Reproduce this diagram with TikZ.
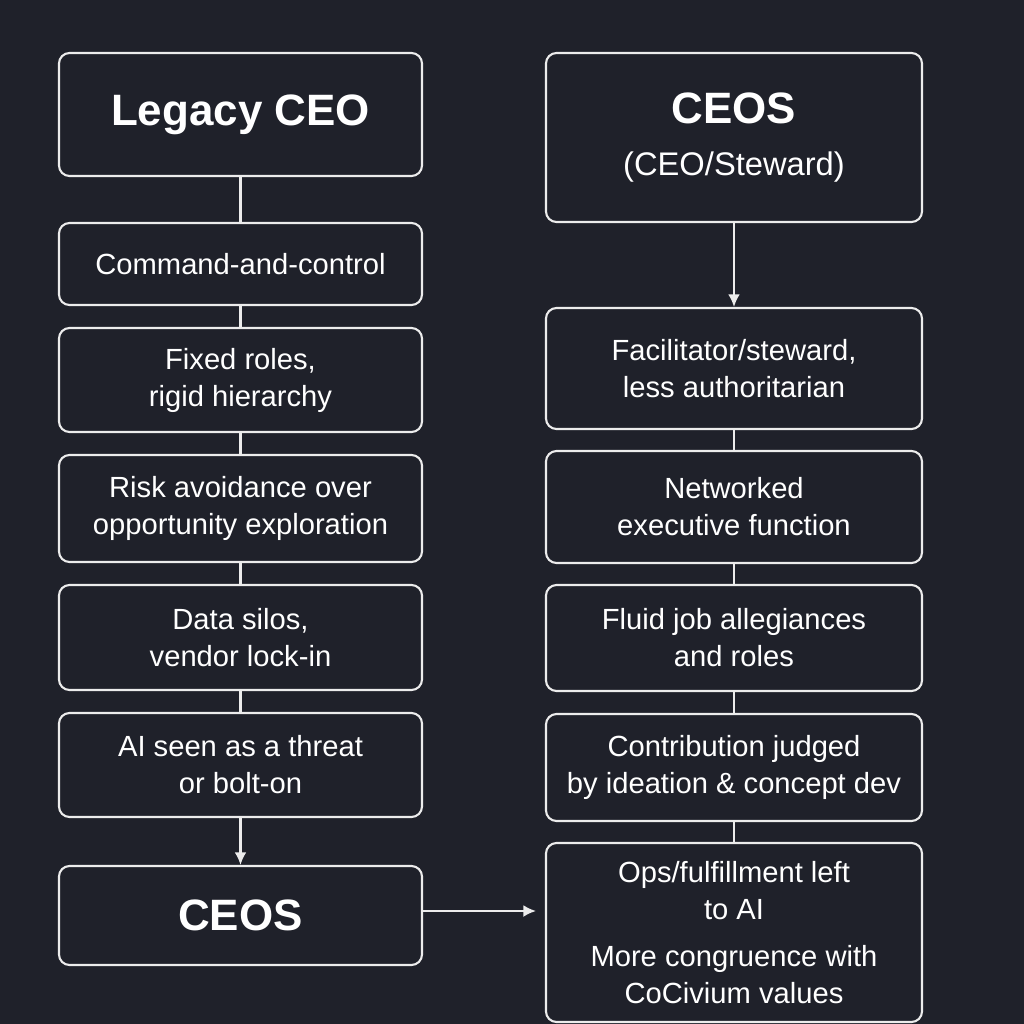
\documentclass[tikz,border=0pt]{standalone}
\usepackage{fontspec}
\setmainfont{Liberation Sans}
\usetikzlibrary{arrows.meta}
\definecolor{bgdark}{RGB}{31,33,42}
\definecolor{boxline}{RGB}{236,236,236}
\tikzset{
  box/.style={draw=boxline, fill=bgdark, line width=0.6pt, rounded corners=3pt, text=white, align=center, inner sep=0pt, font=\fontsize{8.3}{10.5}\selectfont},
  lbox/.style={box, minimum width=3.63cm},
  rbox/.style={box, minimum width=3.76cm},
  headfont/.style={font=\fontsize{12.5}{15}\selectfont\bfseries},
  link/.style={draw=boxline, line width=0.6pt},
  arrowlink/.style={link, -{Latex[length=3.6pt,width=3.4pt]}}
}

\begin{document}
\begin{tikzpicture}
    \fill[bgdark] (0,0) rectangle (10.24,-10.24);
    \useasboundingbox (0,0) rectangle (10.24,-10.24);
    % legacy column
    \node[lbox, minimum height=1.23cm, headfont] (legacy) at (2.405,-1.145) {Legacy CEO};
    \node[lbox, minimum height=0.82cm] (command) at (2.405,-2.64) {Command-and-control};
    \node[lbox, minimum height=1.04cm] (fixed) at (2.405,-3.80) {Fixed roles,\\rigid hierarchy};
    \node[lbox, minimum height=1.07cm] (risk) at (2.405,-5.085) {Risk avoidance over\\opportunity exploration};
    \node[lbox, minimum height=1.05cm] (silos) at (2.405,-6.375) {Data silos,\\vendor lock-in};
    \node[lbox, minimum height=1.04cm] (threat) at (2.405,-7.65) {AI seen as a threat\\or bolt-on};
    \node[lbox, minimum height=0.99cm, headfont] (ceosleft) at (2.405,-9.155) {CEOS};
    % steward column
    \node[rbox, minimum height=1.69cm, font=\fontsize{9.3}{15}\selectfont] (steward) at (7.34,-1.375) {{\fontsize{12.5}{15}\selectfont\bfseries CEOS}\\(CEO/Steward)};
    \node[rbox, minimum height=1.21cm] (facil) at (7.34,-3.685) {Facilitator/steward,\\less authoritarian};
    \node[rbox, minimum height=1.12cm] (network) at (7.34,-5.07) {Networked\\executive function};
    \node[rbox, minimum height=1.06cm] (fluid) at (7.34,-6.38) {Fluid job allegiances\\and roles};
    \node[rbox, minimum height=1.07cm] (contrib) at (7.34,-7.675) {Contribution judged\\by ideation \& concept dev};
    \node[rbox, minimum height=1.79cm] (ops) at (7.34,-9.325) {Ops/fulfillment left\\to AI\\[3pt]More congruence with\\CoCivium values};
    \coordinate (opsin) at (5.36,-9.11);

    \draw[link] (legacy) -- (command); \draw[link] (command) -- (fixed); \draw[link] (fixed) -- (risk);
    \draw[link] (risk) -- (silos); \draw[link] (silos) -- (threat);
    \draw[arrowlink] (threat) -- (ceosleft);
    \draw[arrowlink] (ceosleft.east |- opsin) -- (opsin);
    \draw[arrowlink] (steward) -- (facil);
    \draw[link] (facil) -- (network); \draw[link] (network) -- (fluid); \draw[link] (fluid) -- (contrib); \draw[link] (contrib) -- (ops);
\end{tikzpicture}
\end{document}
